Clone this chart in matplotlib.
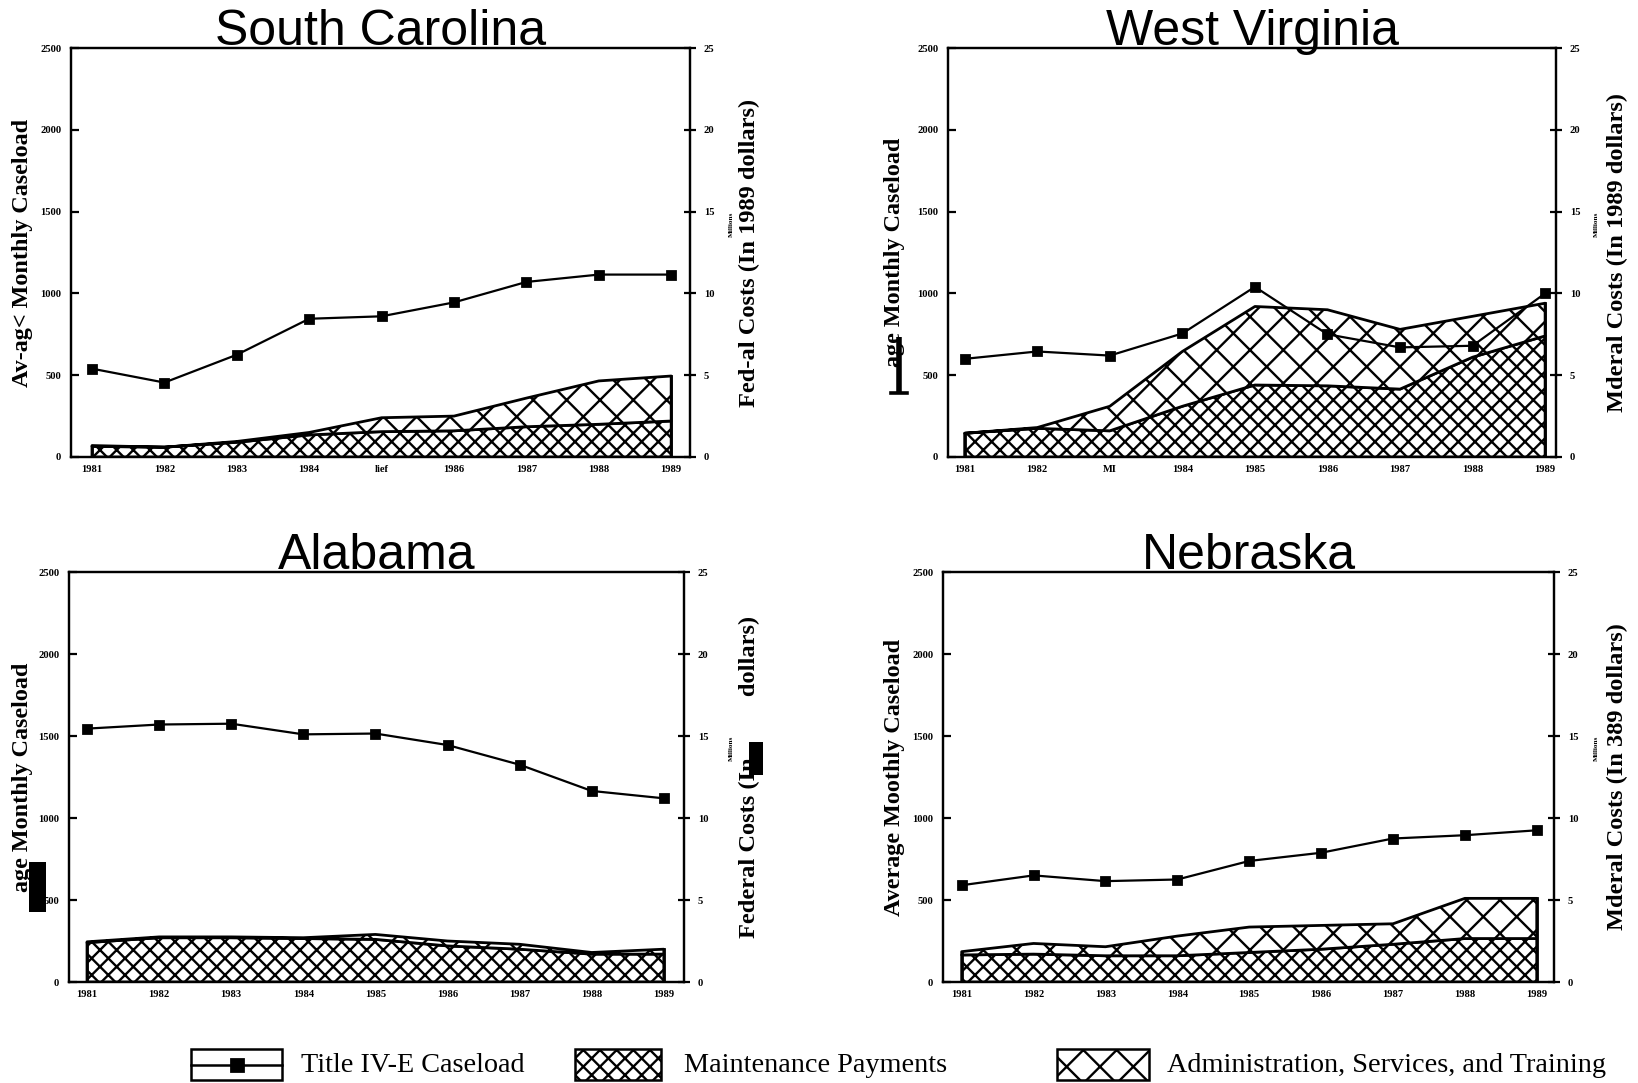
import matplotlib
matplotlib.use("Agg")
import matplotlib.pyplot as plt
from matplotlib.patches import Rectangle
from matplotlib.lines import Line2D

years = [1981, 1982, 1983, 1984, 1985, 1986, 1987, 1988, 1989]

# Title IV-E caseload (average monthly)
sc_caseload = [540, 455, 625, 845, 860, 945, 1070, 1115, 1115]
wv_caseload = [600, 645, 620, 755, 1040, 750, 670, 680, 1000]
al_caseload = [1545, 1570, 1575, 1510, 1515, 1445, 1325, 1165, 1120]
ne_caseload = [590, 650, 615, 625, 738, 788, 875, 895, 925]

# Maintenance payments (millions, 1989 dollars)
sc_maint = [0.65, 0.6, 0.9, 1.35, 1.55, 1.6, 1.85, 2.0, 2.2]
wv_maint = [1.45, 1.75, 1.6, 3.1, 4.4, 4.35, 4.15, 6.1, 7.4]
al_maint = [2.4, 2.7, 2.7, 2.65, 2.6, 2.2, 2.0, 1.7, 1.7]
ne_maint = [1.65, 1.7, 1.6, 1.6, 1.8, 2.0, 2.3, 2.65, 2.65]

# Administration, services and training (millions, 1989 dollars)
sc_admin = [0.05, 0.0, 0.05, 0.15, 0.85, 0.9, 1.75, 2.65, 2.75]
wv_admin = [0.0, 0.05, 1.5, 3.35, 4.8, 4.65, 3.65, 2.5, 2.0]
al_admin = [0.05, 0.05, 0.05, 0.05, 0.3, 0.3, 0.3, 0.1, 0.3]
ne_admin = [0.2, 0.65, 0.55, 1.2, 1.55, 1.45, 1.25, 2.45, 2.45]

caseload_ticks = [0, 500, 1000, 1500, 2000, 2500]
cost_ticks = [0, 5, 10, 15, 20, 25]

titles = ["South Carolina", "West Virginia", "Alabama", "Nebraska"]
sc_xlabels = ["1981", "1982", "1983", "1984", "lief", "1986", "1987", "1988", "1989"]
wv_xlabels = ["1981", "1982", "MI", "1984", "1985", "1986", "1987", "1988", "1989"]
std_xlabels = [str(y) for y in years]
left_labels = ["Av-ag< Monthly Caseload", "age Monthly Caseload",
               "age Monthly Caseload", "Average Moothly Caseload"]
right_labels = ["Fed-al Costs (In 1989 dollars)", "Mderal Costs (In 1989 dollars)",
                "Federal Costs (In          dollars)", "Mderal Costs (In 389 dollars)"]
legend_labels = ["Title IV-E Caseload", "Maintenance Payments",
                 "Administration, Services, and Training"]

W, H = 1638, 1083
DPI = 200
plt.rcParams["hatch.linewidth"] = 0.85
fig = plt.figure(figsize=(W / DPI, H / DPI), dpi=DPI)
fig.patch.set_facecolor("white")

DENSE = "xxxx"
SPARSE = "xx"


def frac(l, r, t, b):
    return [l / W, 1 - b / H, (r - l) / W, (b - t) / H]


panels = [
    dict(rect=frac(71, 690, 48, 457), xlim=(1980.71, 1989.26), case=sc_caseload,
         maint=sc_maint, admin=sc_admin, xl=sc_xlabels, llx=23, rlx=749, mlx=731),
    dict(rect=frac(948, 1556, 48, 457), xlim=(1980.77, 1989.15), case=wv_caseload,
         maint=wv_maint, admin=wv_admin, xl=wv_xlabels, llx=895, rlx=1617, mlx=1596),
    dict(rect=frac(69, 684, 572, 982), xlim=(1980.75, 1989.28), case=al_caseload,
         maint=al_maint, admin=al_admin, xl=std_xlabels, llx=23, rlx=749, mlx=731),
    dict(rect=frac(943, 1554, 572, 982), xlim=(1980.74, 1989.24), case=ne_caseload,
         maint=ne_maint, admin=ne_admin, xl=std_xlabels, llx=895, rlx=1617, mlx=1596),
]

serif = ["Liberation Serif", "DejaVu Serif"]

for i, p in enumerate(panels):
    ax = fig.add_axes(p["rect"])
    tw = ax.twinx()
    ax.set_zorder(tw.get_zorder() + 1)
    ax.patch.set_visible(False)

    top = [m + a for m, a in zip(p["maint"], p["admin"])]
    tw.fill_between(years, 0, p["maint"], facecolor="white", edgecolor="black",
                    hatch=DENSE, linewidth=1.0)
    tw.fill_between(years, p["maint"], top, facecolor="white", edgecolor="black",
                    hatch=SPARSE, linewidth=1.0)
    tw.plot([years[0], years[0]], [0, top[0]], color="black", lw=1.0)
    tw.plot([years[-1], years[-1]], [0, top[-1]], color="black", lw=1.0)
    tw.set_ylim(0, 25)
    tw.set_yticks(cost_ticks)
    tw.set_yticklabels([str(v) for v in cost_ticks], fontsize=3.8,
                       fontweight="bold", family=serif)
    tw.tick_params(axis="y", direction="inout", length=4, width=0.8, pad=3)

    ax.plot(years, p["case"], color="black", lw=0.8, marker="s", markersize=3.2,
            markerfacecolor="black", markeredgecolor="black")
    ax.set_xlim(*p["xlim"])
    ax.set_ylim(0, 2500)
    ax.set_yticks(caseload_ticks)
    ax.set_yticklabels([str(v) for v in caseload_ticks], fontsize=3.8,
                       fontweight="bold", family=serif)
    ax.tick_params(axis="y", direction="in", length=3, width=0.8, pad=3.5)
    ax.set_xticks(years)
    ax.set_xticklabels(p["xl"], fontsize=3.8, fontweight="bold", family=serif)
    ax.tick_params(axis="x", length=0, pad=3)
    for a in (ax, tw):
        for s in a.spines.values():
            s.set_linewidth(0.8)
            s.set_color("black")

    l, b, w, h = p["rect"]
    fig.text(l + w / 2, b + h + 3 / H, titles[i], ha="center", va="baseline",
             fontsize=18, family=["Liberation Sans", "DejaVu Sans"])
    fig.text(p["llx"] / W, b + h / 2, left_labels[i], rotation=90, ha="center",
             va="center", fontsize=8.7, fontweight="bold", family=serif)
    fig.text(p["rlx"] / W, b + h / 2, right_labels[i], rotation=90, ha="center",
             va="center", fontsize=8.8, fontweight="bold", family=serif)
    fig.text(p["mlx"] / W, b + h * 0.57, "Millions", rotation=90, ha="center",
             va="center", fontsize=2.6, fontweight="bold", family=serif)

# overlay in pixel coordinates for scan artefacts and legend
ov = fig.add_axes([0, 0, 1, 1], zorder=10)
ov.set_xlim(0, W)
ov.set_ylim(H, 0)
ov.axis("off")
ov.patch.set_visible(False)

# scan redaction blocks
ov.add_patch(Rectangle((29, 862), 17, 50, facecolor="black", edgecolor="none"))
ov.add_patch(Rectangle((749, 742), 14, 33, facecolor="black", edgecolor="none"))
ov.plot([899, 899], [337, 393], color="black", lw=2.0, solid_capstyle="butt")
ov.plot([891, 907], [393, 393], color="black", lw=1.3)

# legend
ly0, ly1 = 1049, 1080
lmid = (ly0 + ly1) / 2
ov.add_patch(Rectangle((191, ly0), 91, ly1 - ly0, facecolor="white",
                       edgecolor="black", lw=0.9))
ov.add_line(Line2D([191, 282], [lmid, lmid], color="black", lw=0.9))
ov.add_line(Line2D([236.5], [lmid], color="black", marker="s", markersize=4.5))
ov.add_patch(Rectangle((575, ly0), 86, ly1 - ly0, facecolor="white",
                       edgecolor="black", lw=0.9, hatch=DENSE))
ov.add_patch(Rectangle((1057, ly0), 92, ly1 - ly0, facecolor="white",
                       edgecolor="black", lw=0.9, hatch=SPARSE))
for x, lab in zip([301, 684, 1167], legend_labels):
    ov.text(x, lmid + 1, lab, ha="left", va="center", fontsize=10.2, family=serif)

fig.savefig("out.png", dpi=DPI, facecolor="white")
